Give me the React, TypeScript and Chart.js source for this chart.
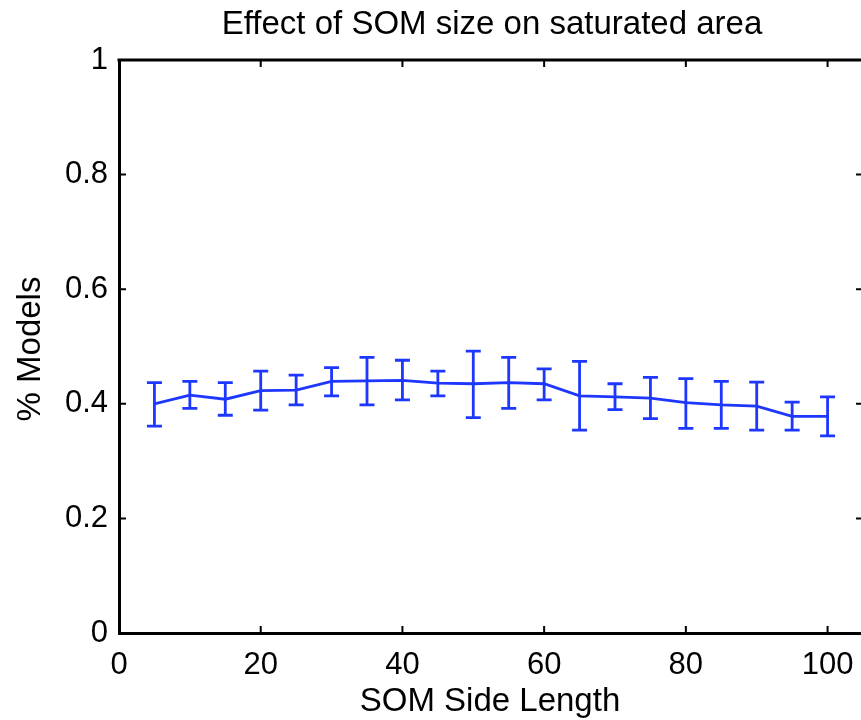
import React, { useEffect, useRef } from "react";
import { Chart, registerables } from "chart.js";

Chart.register(...registerables);

const sideLength = [5, 10, 15, 20, 25, 30, 35, 40, 45, 50, 55, 60, 65, 70, 75, 80, 85, 90, 95, 100];
const meanPct = [0.400, 0.415, 0.408, 0.423, 0.424, 0.439, 0.440, 0.441, 0.436, 0.435, 0.437, 0.435, 0.414, 0.412, 0.410, 0.402, 0.398, 0.396, 0.378, 0.378];
const upperBound = [0.437, 0.439, 0.437, 0.457, 0.450, 0.463, 0.481, 0.476, 0.457, 0.492, 0.481, 0.461, 0.474, 0.435, 0.446, 0.444, 0.439, 0.438, 0.403, 0.412];
const lowerBound = [0.361, 0.392, 0.380, 0.389, 0.398, 0.414, 0.398, 0.407, 0.414, 0.376, 0.392, 0.407, 0.354, 0.390, 0.374, 0.357, 0.357, 0.354, 0.354, 0.344];
const xTicks = [0, 20, 40, 60, 80, 100];
const yTicks = [0, 0.2, 0.4, 0.6, 0.8, 1];

const TITLE = "Effect of SOM size on saturated area";
const X_TITLE = "SOM Side Length";
const Y_TITLE = "% Models";

const FONT = '"Liberation Sans", Arial, Helvetica, sans-serif';
const BLUE = "rgb(30,55,255)";

const decorPlugin = {
  id: "decor",
  afterDatasetsDraw(chart: any) {
    const ctx = chart.ctx;
    const xs = chart.scales.x;
    const ys = chart.scales.y;
    const area = chart.chartArea;
    ctx.save();
    // error bars
    ctx.strokeStyle = BLUE;
    ctx.lineWidth = 2.8;
    const cap = 7.5;
    for (let i = 0; i < sideLength.length; i++) {
      const px = xs.getPixelForValue(sideLength[i]);
      const pTop = ys.getPixelForValue(upperBound[i]);
      const pBot = ys.getPixelForValue(lowerBound[i]);
      ctx.beginPath();
      ctx.moveTo(px, pTop);
      ctx.lineTo(px, pBot);
      ctx.moveTo(px - cap, pTop);
      ctx.lineTo(px + cap, pTop);
      ctx.moveTo(px - cap, pBot);
      ctx.lineTo(px + cap, pBot);
      ctx.stroke();
    }
    // box top and right
    ctx.strokeStyle = "#000";
    ctx.lineWidth = 3;
    ctx.beginPath();
    ctx.moveTo(area.left - 1.5, area.top);
    ctx.lineTo(area.right + 1.5, area.top);
    ctx.moveTo(area.right, area.top);
    ctx.lineTo(area.right, area.bottom);
    ctx.stroke();
    // inward ticks
    ctx.lineWidth = 2;
    const tl = 7;
    ctx.beginPath();
    for (const t of xs.ticks) {
      const px = xs.getPixelForValue(t.value);
      ctx.moveTo(px, area.bottom);
      ctx.lineTo(px, area.bottom - tl);
      ctx.moveTo(px, area.top);
      ctx.lineTo(px, area.top + tl);
    }
    for (const t of ys.ticks) {
      const py = ys.getPixelForValue(t.value);
      ctx.moveTo(area.left, py);
      ctx.lineTo(area.left + tl, py);
      ctx.moveTo(area.right, py);
      ctx.lineTo(area.right - tl, py);
    }
    ctx.stroke();
    // texts
    ctx.fillStyle = "#000";
    ctx.font = `33px ${FONT}`;
    ctx.textAlign = "center";
    ctx.textBaseline = "alphabetic";
    ctx.fillText(TITLE, 492, 34);
    ctx.fillText(X_TITLE, 490, 711);
    ctx.translate(40, 349);
    ctx.rotate(-Math.PI / 2);
    ctx.fillText(Y_TITLE, 0, 0);
    ctx.restore();
  },
};

export default function App() {
  const ref = useRef<HTMLCanvasElement | null>(null);
  useEffect(() => {
    if (!ref.current) return;
    const chart = new Chart(ref.current, {
      type: "line",
      data: {
        datasets: [
          {
            data: sideLength.map((x, i) => ({ x, y: meanPct[i] })),
            borderColor: BLUE,
            borderWidth: 2.8,
            pointRadius: 0,
            fill: false,
            tension: 0,
          },
        ],
      },
      options: {
        animation: false,
        responsive: false,
        layout: { padding: { top: 60, right: 17, left: 0, bottom: 0 } },
        plugins: {
          legend: { display: false },
          title: { display: false },
          tooltip: { enabled: false },
        },
        scales: {
          x: {
            type: "linear",
            min: 0,
            max: 105,
            position: "bottom",
            grid: { display: false, drawTicks: false },
            border: { display: true, color: "#000", width: 3 },
            ticks: {
              color: "#000",
              font: { family: FONT, size: 31 },
              padding: 14,
              maxRotation: 0,
              autoSkip: false,
              callback: (v: any) => String(v),
            },
            afterBuildTicks: (s: any) => {
              s.ticks = xTicks.map((v) => ({ value: v }));
            },
            afterFit: (s: any) => {
              s.height = 87;
            },
          },
          y: {
            type: "linear",
            min: 0,
            max: 1,
            position: "left",
            grid: { display: false, drawTicks: false },
            border: { display: true, color: "#000", width: 3 },
            ticks: {
              color: "#000",
              font: { family: FONT, size: 31 },
              padding: 11,
              autoSkip: false,
              callback: (v: any) => String(Math.round(Number(v) * 10) / 10),
            },
            afterBuildTicks: (s: any) => {
              s.ticks = yTicks.map((v) => ({ value: v }));
            },
            afterFit: (s: any) => {
              s.width = 119;
            },
          },
        },
      },
      plugins: [decorPlugin],
    } as any);
    return () => chart.destroy();
  }, []);
  return (
    <div style={{ position: "absolute", left: 0, top: 0, width: 861, height: 720, overflow: "hidden", background: "#fff" }}>
      <canvas ref={ref} width={880} height={720} style={{ display: "block", width: 880, height: 720 }} />
    </div>
  );
}
